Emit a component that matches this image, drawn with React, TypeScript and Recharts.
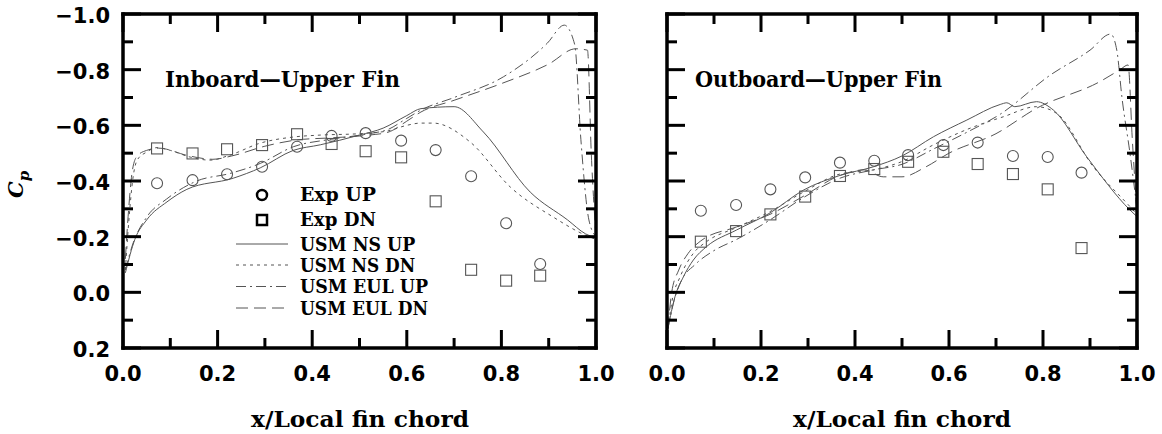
import { ComposedChart, Line, Scatter, XAxis, YAxis } from 'recharts';

// Experimental tap locations (fraction of local fin chord), same on both fins
const expX = [0.072, 0.147, 0.22, 0.294, 0.368, 0.441, 0.513, 0.588, 0.661, 0.736, 0.81, 0.882];

const inboardExpUp = [-0.392, -0.403, -0.424, -0.451, -0.523, -0.562, -0.572, -0.545, -0.511, -0.417, -0.248, -0.102];
const inboardExpDn = [-0.517, -0.499, -0.514, -0.529, -0.568, -0.533, -0.507, -0.485, -0.327, -0.081, -0.042, -0.06];
const outboardExpUp = [-0.293, -0.314, -0.37, -0.413, -0.466, -0.473, -0.493, -0.529, -0.538, -0.49, -0.486, -0.43];
const outboardExpDn = [-0.182, -0.22, -0.28, -0.344, -0.418, -0.443, -0.469, -0.505, -0.461, -0.425, -0.37, -0.159];

// computed curves, [x, Cp]
const inboardNsUp = [
  [0.005, -0.07], [0.025, -0.19], [0.05, -0.26], [0.093, -0.325], [0.135, -0.37], [0.233, -0.41],
  [0.29, -0.447], [0.36, -0.51], [0.417, -0.53], [0.5, -0.565], [0.55, -0.59], [0.6, -0.635],
  [0.63, -0.66], [0.7, -0.667], [0.762, -0.576], [0.861, -0.36], [0.94, -0.26], [0.978, -0.21], [1.0, -0.195],
];
const inboardNsDn = [
  [0.005, -0.08], [0.012, -0.25], [0.021, -0.41], [0.03, -0.475], [0.05, -0.504], [0.072, -0.52],
  [0.1, -0.51], [0.142, -0.486], [0.184, -0.475], [0.226, -0.493], [0.29, -0.536], [0.36, -0.558],
  [0.417, -0.565], [0.5, -0.57], [0.56, -0.58], [0.6, -0.6], [0.629, -0.608], [0.656, -0.608],
  [0.734, -0.54], [0.819, -0.378], [0.91, -0.27], [0.978, -0.205], [1.0, -0.19],
];
const inboardEulUp = [
  [0.005, -0.08], [0.02, -0.17], [0.05, -0.27], [0.092, -0.335], [0.156, -0.4], [0.226, -0.427],
  [0.29, -0.463], [0.36, -0.523], [0.44, -0.55], [0.52, -0.57], [0.56, -0.585], [0.6, -0.625],
  [0.63, -0.655], [0.7, -0.7], [0.804, -0.774], [0.897, -0.895], [0.933, -0.96], [0.955, -0.89],
  [0.968, -0.55], [0.985, -0.26], [1.0, -0.2],
];
const inboardEulDn = [
  [0.005, -0.12], [0.012, -0.3], [0.02, -0.44], [0.03, -0.49], [0.05, -0.51], [0.075, -0.518],
  [0.14, -0.49], [0.19, -0.478], [0.23, -0.49], [0.3, -0.525], [0.37, -0.548], [0.44, -0.555],
  [0.52, -0.565], [0.56, -0.575], [0.6, -0.615], [0.63, -0.648], [0.7, -0.69], [0.8, -0.75],
  [0.9, -0.82], [0.957, -0.875], [0.982, -0.87], [0.99, -0.5], [1.0, -0.2],
];

const outboardNsUp = [
  [0.002, 0.13], [0.017, 0.016], [0.035, -0.056], [0.056, -0.116], [0.084, -0.164], [0.148, -0.224],
  [0.219, -0.285], [0.29, -0.367], [0.368, -0.42], [0.439, -0.451], [0.5, -0.49], [0.567, -0.559],
  [0.638, -0.619], [0.709, -0.675], [0.723, -0.681], [0.74, -0.667], [0.786, -0.685], [0.822, -0.655],
  [0.893, -0.487], [0.985, -0.296], [1.0, -0.272],
];
const outboardNsDn = [
  [0.002, 0.13], [0.012, 0.02], [0.028, -0.056], [0.056, -0.14], [0.084, -0.182], [0.148, -0.233],
  [0.219, -0.29], [0.29, -0.36], [0.368, -0.425], [0.439, -0.44], [0.5, -0.47], [0.567, -0.53],
  [0.638, -0.585], [0.716, -0.631], [0.786, -0.667], [0.829, -0.643], [0.907, -0.451], [0.985, -0.308], [1.0, -0.28],
];
const outboardEulUp = [
  [0.002, 0.13], [0.015, 0.03], [0.03, -0.04], [0.06, -0.1], [0.1, -0.15], [0.148, -0.19],
  [0.219, -0.26], [0.29, -0.34], [0.368, -0.41], [0.44, -0.44], [0.5, -0.46], [0.567, -0.515],
  [0.638, -0.575], [0.709, -0.64], [0.815, -0.78], [0.9, -0.87], [0.944, -0.928], [0.957, -0.87],
  [0.968, -0.7], [0.985, -0.5], [1.0, -0.3],
];
const outboardEulDn = [
  [0.002, 0.13], [0.01, 0.0], [0.025, -0.08], [0.045, -0.14], [0.072, -0.185], [0.148, -0.235],
  [0.219, -0.28], [0.29, -0.345], [0.368, -0.42], [0.42, -0.44], [0.46, -0.415], [0.5, -0.415],
  [0.55, -0.45], [0.6, -0.5], [0.7, -0.57], [0.786, -0.661], [0.921, -0.757], [0.964, -0.8],
  [0.981, -0.817], [0.99, -0.55], [1.0, -0.28],
];

const xTicks = [0, 0.1, 0.2, 0.3, 0.4, 0.5, 0.6, 0.7, 0.8, 0.9, 1.0];
const yTicks = [-1.0, -0.9, -0.8, -0.7, -0.6, -0.5, -0.4, -0.3, -0.2, -0.1, 0, 0.1, 0.2];

const toPoints = (pts: number[][]) => pts.map(([x, y]) => ({ x, y }));
const toExp = (ys: number[]) => ys.map((y, i) => ({ x: expX[i], y }));

const MAJOR = 18;
const MINOR = 10;
const TICK_W = 3;
const FRAME = { stroke: '#000', strokeWidth: 3.5, strokeLinecap: 'square' as const };
const CURVE = '#555';

const isMajor = (v: number) => Math.round(v * 10) % 2 === 0;
const fmt = (v: number) => v.toFixed(1).replace('-', '\u2212');

const tickFont = { fontFamily: 'DejaVu Sans', fontWeight: 'bold', fontSize: 21, fill: '#000' };

const makeTick = (side: 'left' | 'right' | 'top' | 'bottom', label: boolean) => (p: any) => {
  const { x, y, payload } = p;
  const len = isMajor(payload.value) ? MAJOR : MINOR;
  let line;
  if (side === 'left') line = <line x1={x} x2={x + len} y1={y} y2={y} />;
  else if (side === 'right') line = <line x1={x} x2={x - len} y1={y} y2={y} />;
  else if (side === 'top') line = <line x1={x} x2={x} y1={y} y2={y + len} />;
  else line = <line x1={x} x2={x} y1={y} y2={y - len} />;
  return (
    <g>
      <g stroke="#000" strokeWidth={TICK_W}>{line}</g>
      {label && isMajor(payload.value) && side === 'left' && (
        <text x={x - 13} y={y + 9} textAnchor="end" {...tickFont}>{fmt(payload.value)}</text>
      )}
      {label && isMajor(payload.value) && side === 'bottom' && (
        <text x={x} y={y + 33} textAnchor="middle" {...tickFont}>{fmt(payload.value)}</text>
      )}
    </g>
  );
};

const circleShape = (p: any) => (
  <circle cx={p.cx} cy={p.cy} r={5.5} fill="none" stroke={CURVE} strokeWidth={1.1} />
);
const squareShape = (p: any) => (
  <rect x={p.cx - 5.5} y={p.cy - 5.5} width={11} height={11} fill="none" stroke={CURVE} strokeWidth={1.1} />
);

function FinPanel({ width, margin, showYLabels, expUp, expDn, nsUp, nsDn, eulUp, eulDn }: any) {
  return (
    <ComposedChart width={width} height={434} margin={margin}>
      <XAxis
        xAxisId="b" type="number" dataKey="x" domain={[0, 1]} ticks={xTicks} interval={0}
        height={40} tickSize={0} tickMargin={0} tickLine={false} axisLine={FRAME}
        tick={makeTick('bottom', true)} allowDataOverflow
      />
      <XAxis
        xAxisId="t" orientation="top" type="number" dataKey="x" domain={[0, 1]} ticks={xTicks} interval={0}
        height={1} tickSize={0} tickMargin={0} tickLine={false} axisLine={FRAME}
        tick={makeTick('top', false)} allowDataOverflow
      />
      <YAxis
        yAxisId="l" type="number" dataKey="y" domain={[-1.0, 0.2]} reversed ticks={yTicks} interval={0}
        width={60} tickSize={0} tickMargin={0} tickLine={false} axisLine={FRAME}
        tick={makeTick('left', showYLabels)} allowDataOverflow
      />
      <YAxis
        yAxisId="r" orientation="right" type="number" dataKey="y" domain={[-1.0, 0.2]} reversed ticks={yTicks}
        interval={0} width={1} tickSize={0} tickMargin={0} tickLine={false} axisLine={FRAME}
        tick={makeTick('right', false)} allowDataOverflow
      />
      <Line xAxisId="b" yAxisId="l" data={toPoints(nsUp)} dataKey="y" type="monotoneX" stroke={CURVE}
        strokeWidth={1} dot={false} activeDot={false} isAnimationActive={false} />
      <Line xAxisId="b" yAxisId="l" data={toPoints(nsDn)} dataKey="y" type="monotoneX" stroke={CURVE}
        strokeWidth={1} strokeDasharray="3 4" dot={false} activeDot={false} isAnimationActive={false} />
      <Line xAxisId="b" yAxisId="l" data={toPoints(eulUp)} dataKey="y" type="monotoneX" stroke={CURVE}
        strokeWidth={1} strokeDasharray="10 4 2 4" dot={false} activeDot={false} isAnimationActive={false} />
      <Line xAxisId="b" yAxisId="l" data={toPoints(eulDn)} dataKey="y" type="monotoneX" stroke={CURVE}
        strokeWidth={1} strokeDasharray="12 6" dot={false} activeDot={false} isAnimationActive={false} />
      <Scatter xAxisId="b" yAxisId="l" data={toExp(expUp)} dataKey="y" shape={circleShape} isAnimationActive={false} />
      <Scatter xAxisId="b" yAxisId="l" data={toExp(expDn)} dataKey="y" shape={squareShape} isAnimationActive={false} />
    </ComposedChart>
  );
}

const serif = { fontFamily: 'DejaVu Serif', fontWeight: 'bold', fill: '#000' };
const legendRows = [
  { label: 'USM NS UP', dash: undefined },
  { label: 'USM NS DN', dash: '3 4' },
  { label: 'USM EUL UP', dash: '10 4 2 4' },
  { label: 'USM EUL DN', dash: '12 6' },
];
const legendY = [244, 265, 286.5, 308];

export default function App() {
  return (
    <div style={{ position: 'absolute', left: 0, top: 0, width: 1162, height: 434, background: '#fff' }}>
      <div style={{ position: 'absolute', left: 600, top: 0 }}>
        <FinPanel
          width={562} margin={{ top: 13, left: 7, right: 24, bottom: 46 }} showYLabels={false}
          expUp={outboardExpUp} expDn={outboardExpDn}
          nsUp={outboardNsUp} nsDn={outboardNsDn} eulUp={outboardEulUp} eulDn={outboardEulDn}
        />
      </div>
      <div style={{ position: 'absolute', left: 0, top: 0 }}>
        <FinPanel
          width={640} margin={{ top: 13, left: 63, right: 43, bottom: 46 }} showYLabels
          expUp={inboardExpUp} expDn={inboardExpDn}
          nsUp={inboardNsUp} nsDn={inboardNsDn} eulUp={inboardEulUp} eulDn={inboardEulDn}
        />
      </div>
      <svg width={1162} height={434} style={{ position: 'absolute', left: 0, top: 0, pointerEvents: 'none' }}>
        <text x={165} y={87} fontSize={23} textLength={235} lengthAdjust="spacingAndGlyphs" {...serif}>
          Inboard—Upper Fin
        </text>
        <text x={695} y={87} fontSize={23} textLength={247} lengthAdjust="spacingAndGlyphs" {...serif}>
          Outboard—Upper Fin
        </text>
        <text x={360} y={427} fontSize={22} textAnchor="middle" textLength={218} lengthAdjust="spacingAndGlyphs" {...serif}>
          x/Local fin chord
        </text>
        <text x={902} y={427} fontSize={22} textAnchor="middle" textLength={218} lengthAdjust="spacingAndGlyphs" {...serif}>
          x/Local fin chord
        </text>
        <text x={23} y={198} transform="rotate(-90 23 198)" fontSize={21} fontStyle="italic" {...serif}>
          C<tspan fontSize={15} dy={6}>p</tspan>
        </text>

        <circle cx={262} cy={195} r={5} fill="none" stroke="#000" strokeWidth={2.5} />
        <text x={300} y={201} fontSize={18} textLength={76} lengthAdjust="spacingAndGlyphs" {...serif}>Exp UP</text>
        <rect x={257} y={215} width={10} height={10} fill="none" stroke="#000" strokeWidth={2.5} />
        <text x={300} y={226} fontSize={18} textLength={76} lengthAdjust="spacingAndGlyphs" {...serif}>Exp DN</text>
        {legendRows.map((r, i) => (
          <g key={r.label}>
            <line x1={236} x2={288} y1={legendY[i]} y2={legendY[i]} stroke={CURVE} strokeWidth={1} strokeDasharray={r.dash} />
            <text x={300} y={legendY[i] + 6.5} fontSize={18} textLength={r.label.length * 12.8}
              lengthAdjust="spacingAndGlyphs" {...serif}>{r.label}</text>
          </g>
        ))}
      </svg>
    </div>
  );
}
